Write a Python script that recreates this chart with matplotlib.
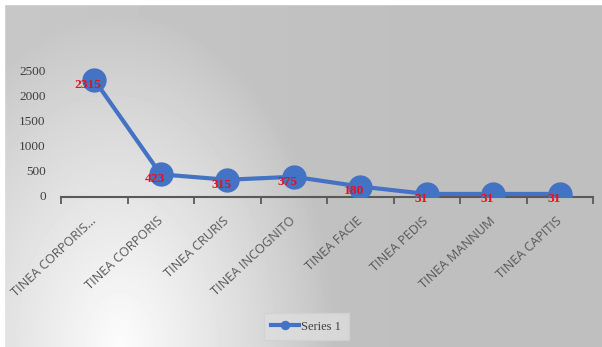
import numpy as np
import matplotlib.pyplot as plt
from matplotlib.patches import Rectangle

categories = ["TINEA CORPORIS...", "TINEA CORPORIS", "TINEA CRURIS", "TINEA INCOGNITO",
              "TINEA FACIE", "TINEA PEDIS", "TINEA MANNUM", "TINEA CAPITIS"]
values = [2315, 423, 315, 375, 180, 31, 31, 31]
y_ticks = [0, 500, 1000, 1500, 2000, 2500]
series_name = "Series 1"

blue = "#4472C4"
W, H = 602, 347

fig = plt.figure(figsize=(W / 100, H / 100), dpi=100)

# grey background, light patch in the lower left
bg = fig.add_axes([0, 0, 1, 1], zorder=-10)
yy, xx = np.mgrid[0:H, 0:W]
d = np.sqrt(((xx - 120) / 215.0) ** 2 + ((yy - 345) / 330.0) ** 2)
t = np.clip(1 - d, 0, 1) ** 0.9
grey = 191 + (252 - 191) * t + 8 * np.clip(1 - xx / 400.0, 0, 1) * (1 - t)
bg.imshow(grey, cmap="gray", vmin=0, vmax=255, aspect="auto", interpolation="bilinear")
bg.axis("off")
fig.patches.append(Rectangle((0, 0), 4 / W, 1, transform=fig.transFigure, color="white", zorder=5))
fig.patches.append(Rectangle((0, 1 - 4 / H), 1, 4 / H, transform=fig.transFigure, color="white", zorder=5))

ax = fig.add_axes([61 / W, 1 - 197 / H, (593 - 61) / W, (197 - 55.5) / H])
ax.patch.set_alpha(0)
x = np.arange(len(categories))
ax.plot(x, values, color=blue, lw=3, marker="o", ms=16.5, mfc=blue, mec=blue,
        label=series_name, zorder=3)

for xi, v in zip(x, values):
    ax.annotate(str(v), (xi, v), xytext=(-4.3, -3.6), textcoords="offset points",
                ha="center", va="center", color="#E8101C", fontsize=9.7,
                fontweight="bold", family="Liberation Serif", zorder=4)

ax.set_xlim(-0.5, len(categories) - 0.5)
ax.set_ylim(-30, 2800)

ax.set_xticks(x)
ax.set_xticklabels(categories, rotation=43, ha="right", va="center",
                   rotation_mode="anchor", family="Open Sans", fontsize=9.2, color="#595959")
ax.set_xticks(np.arange(-0.5, len(categories)), minor=True)
ax.tick_params(axis="x", which="major", length=0, pad=16)
ax.tick_params(axis="x", which="minor", length=5, width=1.3, color="#595959", direction="out")

ax.set_yticks(y_ticks)
ax.set_yticklabels([str(v) for v in y_ticks], family="Liberation Serif", fontsize=9.5, color="#404040")
ax.tick_params(axis="y", length=0, pad=11)

for s in ["top", "right", "left"]:
    ax.spines[s].set_visible(False)
ax.spines["bottom"].set_color("#595959")
ax.spines["bottom"].set_linewidth(1.5)

leg = fig.legend(loc="center", bbox_to_anchor=(0.509, 0.059), frameon=True, fancybox=False,
                 prop={"family": "Liberation Serif", "size": 9}, handlelength=2.2,
                 handletextpad=0.2, borderpad=0.6, markerscale=0.35)
leg.get_frame().set_facecolor("#dedede")
leg.get_frame().set_edgecolor("#d2d2d2")
leg.get_frame().set_alpha(0.8)
for txt in leg.get_texts():
    txt.set_color("#404040")

fig.savefig("out.png", dpi=100)
